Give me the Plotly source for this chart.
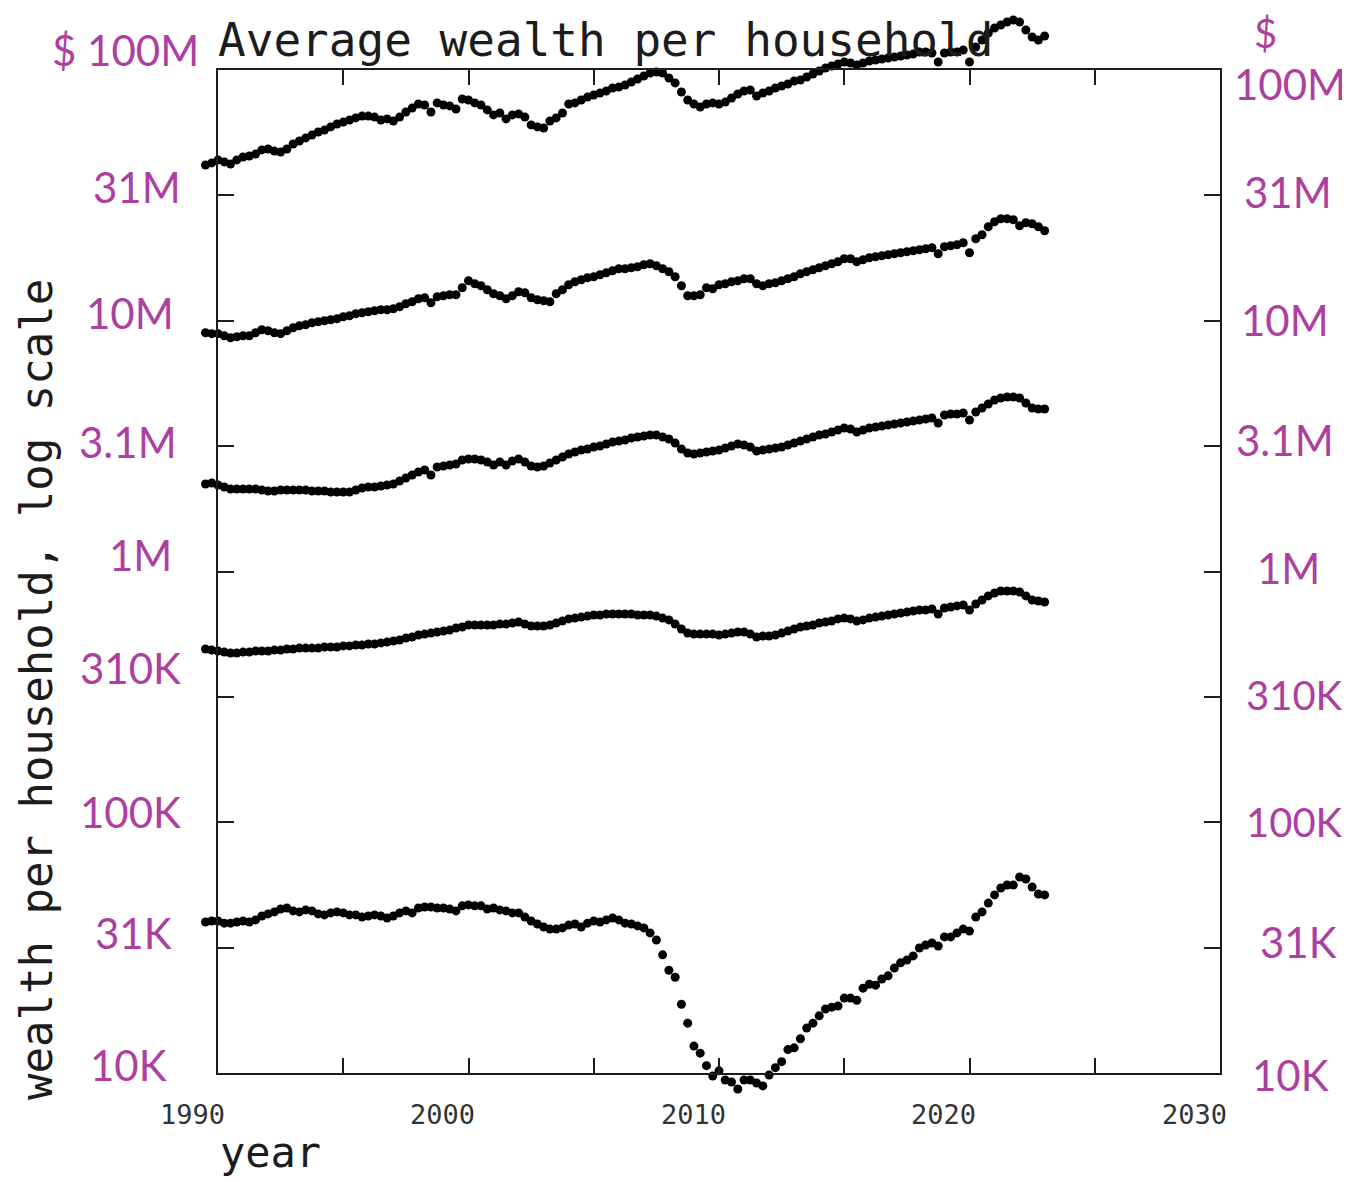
import plotly.graph_objects as go

# ---------------- data ----------------
quarters = [1989.5 + 0.25 * i for i in range(135)]  # 1989Q3 .. 2023Q1

# average wealth per household, $ millions
top_group = [
    41.8, 42.6, 43.8, 43.0, 42.2, 43.8, 45.0, 45.4, 46.2, 48.0,
    48.4, 47.5, 47.1, 48.4, 50.7, 52.1, 53.6, 55.0, 56.6, 57.6,
    59.3, 60.9, 62.0, 63.2, 64.4, 65.5, 65.5, 64.9, 63.2, 63.8,
    62.6, 64.9, 68.0, 70.5, 73.2, 72.5, 68.0, 73.9, 72.5, 71.9,
    69.9, 76.6, 75.9, 73.9, 72.5, 69.3, 66.2, 67.4, 63.8, 66.2,
    66.8, 64.9, 60.4, 59.3, 58.7, 62.6, 64.4, 67.4, 73.2, 73.9,
    75.9, 78.0, 79.5, 81.0, 82.5, 84.8, 85.5, 87.1, 89.6, 92.1,
    94.6, 97.3, 98.2, 97.3, 92.9, 88.8, 81.7, 75.9, 73.2, 71.2,
    73.2, 73.9, 73.2, 74.5, 77.3, 80.2, 82.5, 83.2, 78.8, 81.0,
    82.5, 84.8, 86.3, 87.9, 90.4, 91.2, 93.8, 96.4, 99.1, 101.9,
    103.7, 105.7, 107.6, 106.6, 104.7, 106.6, 108.6, 109.6, 110.6, 111.7,
    112.7, 113.7, 114.8, 115.8, 118.0, 118.0, 116.9, 107.6, 116.9, 118.0,
    118.0, 120.2, 107.6, 123.5, 131.7, 140.5, 147.1, 151.2, 155.4, 158.3,
    155.4, 144.4, 135.4, 131.7, 136.6,
]

# $ millions
second_group = [
    8.96, 8.88, 8.88, 8.71, 8.55, 8.63, 8.71, 8.71, 8.96, 9.21,
    9.12, 8.96, 8.88, 9.12, 9.38, 9.55, 9.64, 9.82, 9.91, 10.0,
    10.09, 10.19, 10.37, 10.47, 10.66, 10.76, 10.86, 10.96, 11.06, 11.06,
    11.17, 11.37, 11.69, 11.91, 12.24, 12.35, 11.80, 12.47, 12.58, 12.70,
    12.70, 13.54, 14.44, 14.05, 13.79, 13.29, 12.81, 12.58, 12.24, 12.58,
    13.05, 12.93, 12.35, 12.13, 12.02, 11.91, 12.81, 13.29, 13.92, 14.31,
    14.57, 14.84, 14.98, 15.26, 15.54, 15.83, 16.12, 16.12, 16.27, 16.42,
    16.72, 16.88, 16.57, 16.12, 15.68, 14.98, 13.79, 12.58, 12.58, 12.70,
    13.54, 13.42, 13.92, 14.05, 14.31, 14.44, 14.71, 14.71, 14.05, 13.79,
    14.05, 14.18, 14.44, 14.71, 14.98, 15.40, 15.68, 15.97, 16.27, 16.57,
    16.88, 17.19, 17.67, 17.67, 17.19, 17.51, 17.83, 18.00, 18.16, 18.33,
    18.50, 18.67, 18.84, 19.02, 19.19, 19.37, 19.55, 18.50, 19.73, 19.91,
    20.10, 20.47, 18.67, 21.24, 22.03, 23.71, 24.82, 25.52, 25.52, 25.28,
    23.93, 24.60, 24.37, 23.71, 22.85,
]

# $ millions
third_group = [
    2.233, 2.254, 2.213, 2.173, 2.133, 2.133, 2.133, 2.133, 2.133, 2.114,
    2.095, 2.095, 2.114, 2.114, 2.114, 2.114, 2.114, 2.095, 2.095, 2.095,
    2.075, 2.075, 2.075, 2.075, 2.114, 2.153, 2.173, 2.173, 2.193, 2.213,
    2.233, 2.296, 2.360, 2.426, 2.494, 2.540, 2.426, 2.611, 2.635, 2.659,
    2.684, 2.784, 2.810, 2.810, 2.784, 2.733, 2.659, 2.733, 2.659, 2.759,
    2.810, 2.733, 2.635, 2.611, 2.635, 2.708, 2.784, 2.862, 2.942, 2.996,
    3.052, 3.080, 3.137, 3.166, 3.225, 3.285, 3.315, 3.345, 3.407, 3.439,
    3.471, 3.503, 3.503, 3.439, 3.376, 3.254, 3.080, 2.969, 2.942, 2.969,
    2.996, 3.024, 3.052, 3.108, 3.166, 3.225, 3.195, 3.137, 3.024, 3.052,
    3.080, 3.108, 3.137, 3.195, 3.254, 3.315, 3.376, 3.439, 3.503, 3.535,
    3.600, 3.667, 3.735, 3.701, 3.600, 3.667, 3.735, 3.769, 3.804, 3.839,
    3.875, 3.911, 3.947, 3.983, 4.020, 4.057, 4.094, 3.911, 4.209, 4.248,
    4.248, 4.287, 4.020, 4.326, 4.488, 4.656, 4.830, 4.920, 4.965, 4.965,
    4.920, 4.699, 4.488, 4.447, 4.447,
]

# $ thousands
fourth_group = [
    491, 486, 482, 477, 473, 473, 477, 477, 482, 482,
    482, 486, 486, 491, 491, 495, 495, 495, 495, 500,
    500, 500, 505, 505, 509, 509, 514, 514, 519, 523,
    528, 533, 543, 548, 558, 563, 568, 574, 579, 584,
    595, 601, 612, 612, 612, 612, 612, 617, 617, 623,
    629, 617, 606, 606, 606, 612, 623, 635, 647, 652,
    658, 664, 671, 671, 677, 677, 677, 677, 677, 671,
    671, 671, 664, 652, 641, 617, 590, 568, 563, 563,
    563, 563, 558, 563, 568, 574, 574, 563, 548, 553,
    553, 558, 568, 579, 590, 601, 606, 612, 623, 629,
    635, 647, 652, 647, 635, 641, 652, 658, 664, 671,
    677, 683, 689, 696, 702, 702, 709, 677, 715, 722,
    729, 735, 702, 742, 770, 799, 821, 836, 836, 836,
    828, 799, 770, 763, 756,
]

# $ thousands
bottom_group = [
    40.0, 40.4, 40.4, 39.6, 39.6, 40.0, 40.4, 40.0, 40.8, 42.3,
    43.1, 43.9, 45.1, 45.5, 44.3, 43.9, 44.7, 44.3, 43.1, 42.7,
    43.5, 43.9, 43.5, 42.7, 42.7, 41.9, 42.3, 42.7, 42.3, 41.5,
    42.3, 43.5, 44.3, 43.5, 45.5, 45.9, 45.9, 45.5, 45.5, 45.1,
    44.3, 46.4, 46.8, 46.4, 46.4, 45.1, 45.5, 44.7, 44.3, 43.5,
    43.5, 41.9, 40.4, 39.3, 38.2, 37.5, 37.5, 37.9, 38.9, 39.3,
    38.2, 39.6, 40.4, 40.0, 40.8, 41.5, 40.8, 39.6, 39.3, 38.6,
    37.9, 36.2, 33.9, 29.6, 25.7, 24.1, 18.8, 15.8, 12.8, 12.0,
    10.7, 9.73, 10.2, 9.38, 9.21, 8.63, 9.38, 9.38, 9.12, 8.88,
    9.82, 10.5, 11.1, 12.4, 12.6, 13.7, 15.1, 15.8, 16.9, 18.0,
    18.3, 18.5, 19.9, 19.9, 19.5, 21.8, 22.6, 22.4, 23.7, 24.4,
    26.2, 27.5, 28.2, 29.3, 31.5, 32.4, 33.0, 32.1, 34.9, 34.9,
    36.2, 37.5, 36.8, 41.9, 43.9, 47.6, 51.3, 54.7, 56.2, 56.2,
    60.5, 59.4, 55.2, 51.7, 51.3,
]

series_millions = [top_group, second_group, third_group]
series_thousands = [fourth_group, bottom_group]

x_ticks = [1990, 1995, 2000, 2005, 2010, 2015, 2020, 2025, 2030]
x_tick_labels = [1990, 2000, 2010, 2020, 2030]
y_tick_exponents = [4, 4.5, 5, 5.5, 6, 6.5, 7, 7.5, 8]
y_tickvals = [10 ** e for e in y_tick_exponents]
left_labels = ["$ 100M", "31M", "10M", "3.1M", "1M", "310K", "100K", "31K", "10K"]
right_labels = ["100M", "31M", "10M", "3.1M", "1M", "310K", "100K", "31K", "10K"]

# ---------------- layout geometry ----------------
# The page places the figure 8 px in from the window's top-left corner,
# so page pixel positions are converted to figure positions by OFF.
OFF = 8
W, H = 1350 - OFF, 1182 - OFF


def P(v):
    return v - OFF


# outer data region (larger than the frame so points outside the frame show)
RL, RR, RT, RB = P(200), P(1220), P(12), P(1098)
# visible frame
FL, FR, FT, FB = P(218), P(1220), P(70), P(1073)
PX_PER_YEAR = (FR - FL) / 40.0
PX_PER_DEC = (FB - FT) / 4.0

data_x_range = [1990 - (FL - RL) / PX_PER_YEAR, 2030 + (RR - FR) / PX_PER_YEAR]
data_y_range = [4 - (RB - FB) / PX_PER_DEC, 8 + (FT - RT) / PX_PER_DEC]
frame_x_domain = [(FL - RL) / (RR - RL), (FR - RL) / (RR - RL)]
frame_y_domain = [(RB - FB) / (RB - RT), (RB - FT) / (RB - RT)]

INK = "#1c1c1c"
PURPLE = "#ad3fa0"
MONO = "DejaVu Sans Mono"

fig = go.Figure()
for s in series_millions:
    fig.add_trace(go.Scatter(x=quarters, y=[v * 1e6 for v in s], mode="markers",
                             marker=dict(size=9, color="black"), cliponaxis=False,
                             showlegend=False, hoverinfo="skip"))
for s in series_thousands:
    fig.add_trace(go.Scatter(x=quarters, y=[v * 1e3 for v in s], mode="markers",
                             marker=dict(size=9, color="black"), cliponaxis=False,
                             showlegend=False, hoverinfo="skip"))
# empty trace so the frame subplot exists
fig.add_trace(go.Scatter(x=[], y=[], xaxis="x2", yaxis="y2", showlegend=False))

xframe = dict(range=[1990, 2030], tickmode="array", tickvals=x_ticks, showgrid=False,
              zeroline=False, showticklabels=False, tickwidth=2, tickcolor=INK)
yframe = dict(type="log", range=[4, 8], tickmode="array", tickvals=y_tickvals,
              showgrid=False, zeroline=False, showticklabels=False, tickwidth=2, tickcolor=INK)

fig.update_layout(
    width=W, height=H,
    margin=dict(l=RL, r=W - RR, t=RT, b=H - RB, pad=0),
    paper_bgcolor="white", plot_bgcolor="rgba(0,0,0,0)",
    xaxis=dict(range=data_x_range, domain=[0, 1], visible=False, anchor="y"),
    yaxis=dict(type="log", range=data_y_range, domain=[0, 1], visible=False, anchor="x"),
    xaxis2=dict(**xframe, domain=frame_x_domain, anchor="y2", ticks="inside", ticklen=15,
                mirror="ticks", showline=True, linewidth=2, linecolor=INK),
    yaxis2=dict(**yframe, domain=frame_y_domain, anchor="x2", ticks="inside", ticklen=16,
                mirror="ticks", showline=True, linewidth=2, linecolor=INK),
    xaxis3=dict(**xframe, overlaying="x2", anchor="y2", side="bottom", ticks="outside",
                ticklen=15, showline=False),
    yaxis3=dict(**yframe, overlaying="y2", anchor="x2", side="left", ticks="outside",
                ticklen=13, showline=False),
    yaxis4=dict(**yframe, overlaying="y2", anchor="x2", side="right", ticks="outside",
                ticklen=14, showline=False),
    title=dict(text="Average wealth per household", x=FL / W, xanchor="left",
               xref="container", y=1 - P(40) / H, yanchor="middle", yref="container",
               font=dict(family=MONO, size=46, color=INK)),
)


def px2paper_x(px):
    return (P(px) - RL) / (RR - RL)


def px2paper_y(py):
    return (RB - P(py)) / (RB - RT)


ann = []
# year tick labels (printed slightly left of their ticks)
for yr in x_tick_labels:
    ann.append(dict(x=yr, xref="x", y=px2paper_y(1114), yref="paper", xshift=-26,
                    xanchor="center", yanchor="middle",
                    text=str(yr), showarrow=False,
                    font=dict(family=MONO, size=27, color="#333")))
# axis titles
ann.append(dict(x=px2paper_x(270), xref="paper", y=px2paper_y(1152), yref="paper",
                xanchor="center", yanchor="middle",
                text="year", showarrow=False, font=dict(family=MONO, size=42, color=INK)))
ann.append(dict(x=px2paper_x(36), xref="paper", y=px2paper_y(690), yref="paper",
                xanchor="center", yanchor="middle",
                text="wealth per household, log scale", textangle=-90, showarrow=False,
                font=dict(family=MONO, size=44, color=INK)))

# handwritten value labels (page pixel positions)
left_pos = [(125, 50), (137, 187), (130, 313), (128, 442), (140, 555),
            (130, 668), (130, 812), (133, 933), (128, 1065)]
right_pos = [(1290, 84), (1288, 192), (1285, 320), (1285, 440), (1288, 568),
             (1294, 695), (1294, 822), (1298, 942), (1290, 1075)]
right_sizes = [42, 42, 42, 42, 42, 40, 40, 42, 42]
for txt, (px, py) in zip(left_labels, left_pos):
    ann.append(dict(x=px2paper_x(px), xref="paper", y=px2paper_y(py), yref="paper",
                    xanchor="center", yanchor="middle", text=txt, showarrow=False,
                    font=dict(family="Lato", size=42, color=PURPLE)))
for txt, (px, py), fs in zip(right_labels, right_pos, right_sizes):
    ann.append(dict(x=px2paper_x(px), xref="paper", y=px2paper_y(py), yref="paper",
                    xanchor="center", yanchor="middle", text=txt, showarrow=False,
                    font=dict(family="Lato", size=fs, color=PURPLE)))
ann.append(dict(x=px2paper_x(1265), xref="paper", y=px2paper_y(33), yref="paper",
                xanchor="center", yanchor="middle",
                text="$", showarrow=False, font=dict(family="Lato", size=40, color=PURPLE)))

fig.update_layout(annotations=ann)
fig.write_html("out.html")
